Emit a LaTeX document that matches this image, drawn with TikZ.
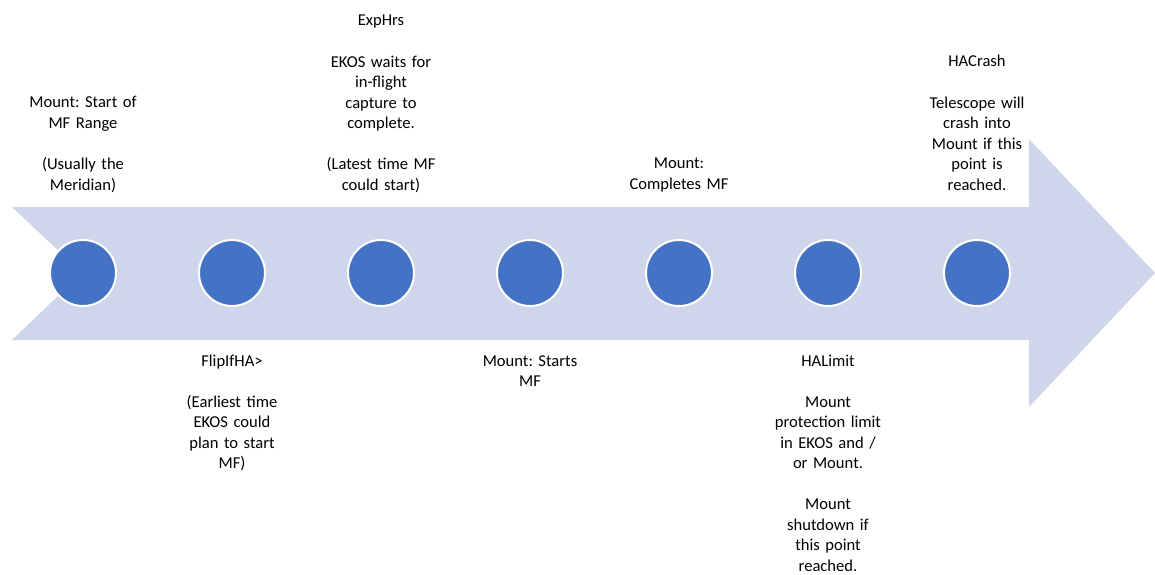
\documentclass[tikz,border=0pt]{standalone}
\usepackage{fontspec}
\setmainfont{Carlito}
\frenchspacing
\definecolor{bandfill}{HTML}{CFD5EA}
\definecolor{stopfill}{HTML}{4472C4}
\tikzset{
  stopdot/.style={circle, fill=stopfill, draw=white, line width=0.05cm,
                  minimum size=1.65cm, inner sep=0pt},
  stoplbl/.style={anchor=base, align=center, text width=3.8cm, inner sep=0pt,
                  font=\fontsize{11.8}{14.6}\selectfont},
}
\begin{document}
\begin{tikzpicture}
                    \useasboundingbox (0,0) rectangle (28.875,-14.350);
                    % Drawing the time band with notched tail and head
                    \fill [bandfill] (0.300,-5.175) -- (25.725,-5.175) -- (25.725,-3.475)
                        -- (28.875,-6.825) -- (25.725,-10.175) -- (25.725,-8.500)
                        -- (0.300,-8.500) -- (2.050,-6.825) -- cycle;%

                    % Marking point start of range
                    \node [stopdot] (pStart) at (2.075,-6.825) {};%
                    \node [stoplbl] (lStart) at (2.075,-2.700)
                        {Mount: Start of\\ MF Range\\[\baselineskip] (Usually the\\ Meridian)};%

                    % Marking point FlipIfHA
                    \node [stopdot] (pFlip) at (5.800,-6.825) {};%
                    \node [stoplbl] (lFlip) at (5.800,-9.150)
                        {FlipIfHA>\\[\baselineskip] (Earliest time\\ EKOS could\\ plan to start\\ MF)};%

                    % Marking point ExpHrs
                    \node [stopdot] (pExp) at (9.525,-6.825) {};%
                    \node [stoplbl] (lExp) at (9.525,-0.650)
                        {ExpHrs\\[\baselineskip] EKOS waits for\\ in-flight\\ capture to\\ complete.\\[\baselineskip] (Latest time MF\\ could start)};%

                    % Marking point mount starts
                    \node [stopdot] (pBegin) at (13.250,-6.825) {};%
                    \node [stoplbl] (lBegin) at (13.250,-9.150)
                        {Mount: Starts\\ MF};%

                    % Marking point mount completes
                    \node [stopdot] (pDone) at (16.975,-6.825) {};%
                    \node [stoplbl] (lDone) at (16.975,-4.225)
                        {Mount:\\ Completes MF};%

                    % Marking point HALimit
                    \node [stopdot] (pLimit) at (20.700,-6.825) {};%
                    \node [stoplbl] (lLimit) at (20.700,-9.150)
                        {HALimit\\[\baselineskip] Mount\\ protection limit\\ in EKOS and /\\ or Mount.\\[\baselineskip] Mount\\ shutdown if\\ this point\\ reached.};%

                    % Marking point HACrash
                    \node [stopdot] (pCrash) at (24.425,-6.825) {};%
                    \node [stoplbl] (lCrash) at (24.425,-1.675)
                        {HACrash\\[\baselineskip] Telescope will\\ crash into\\ Mount if this\\ point is\\ reached.};%
\end{tikzpicture}
\end{document}
